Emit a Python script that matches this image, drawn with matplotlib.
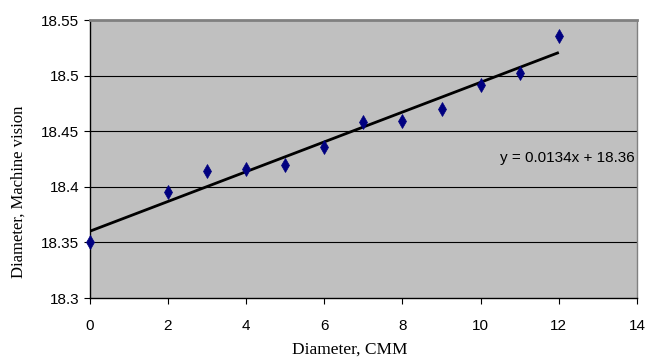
import matplotlib
matplotlib.use("Agg")
import matplotlib.pyplot as plt
import numpy as np

cmm = [0, 2, 3, 4, 5, 6, 7, 8, 9, 10, 11, 12]
vision = [18.350, 18.395, 18.414, 18.416, 18.420, 18.436, 18.458, 18.459, 18.470, 18.492, 18.502, 18.536]
slope = 0.0134
intercept = 18.36
x_ticks = [0, 2, 4, 6, 8, 10, 12, 14]
y_ticks = [18.3, 18.35, 18.4, 18.45, 18.5, 18.55]
y_tick_labels = ["18.3", "18.35", "18.4", "18.45", "18.5", "18.55"]

tick_font = ["Liberation Sans Narrow", "Liberation Sans", "DejaVu Sans"]
label_font = ["Liberation Serif", "DejaVu Serif"]

fig = plt.figure(figsize=(6.52, 3.64), dpi=100)
ax = fig.add_axes([0.1376, 0.1813, 0.977 - 0.1376, 0.945 - 0.1813])
ax.set_facecolor("#C0C0C0")

for yv in y_ticks[1:-1]:
    ax.axhline(yv, color="#000000", lw=0.8, zorder=1)

fit_x = np.array([min(cmm), max(cmm)])
ax.plot(fit_x, slope * fit_x + intercept, color="black", lw=2.0, zorder=2, solid_capstyle="butt")
ax.plot(cmm, vision, linestyle="none", marker="d", markersize=7, color="#000080",
        markeredgecolor="#000080", markeredgewidth=0.5, zorder=3, clip_on=False)

ax.set_xlim(0, 14)
ax.set_ylim(18.3, 18.55)
ax.set_xticks(x_ticks)
ax.set_xticklabels([str(v) for v in x_ticks], family=tick_font, fontsize=11)
ax.set_yticks(y_ticks)
ax.set_yticklabels(y_tick_labels, family=tick_font, fontsize=11)
ax.tick_params(axis="x", direction="out", length=4, width=0.8, pad=11, colors="black")
ax.tick_params(axis="y", direction="out", length=4, width=0.8, pad=3.5, colors="black")

ax.spines["left"].set_color("black")
ax.spines["bottom"].set_color("black")
ax.spines["top"].set_color("#808080")
ax.spines["right"].set_color("#808080")
for s in ax.spines.values():
    s.set_linewidth(1.0)
ax.spines["top"].set_linewidth(2.0)

ax.text(13.95, 18.426, "y = 0.0134x + 18.36", ha="right", va="center",
        family=tick_font, fontsize=11, color="black")

fig.text(0.537, 0.0385, "Diameter, CMM", ha="center", va="center",
         family=label_font, fontsize=12.5)
fig.text(0.029, 0.4725, "Diameter, Machine vision", ha="center", va="center",
         rotation=90, family=label_font, fontsize=12)

fig.savefig("out.png", dpi=100)
